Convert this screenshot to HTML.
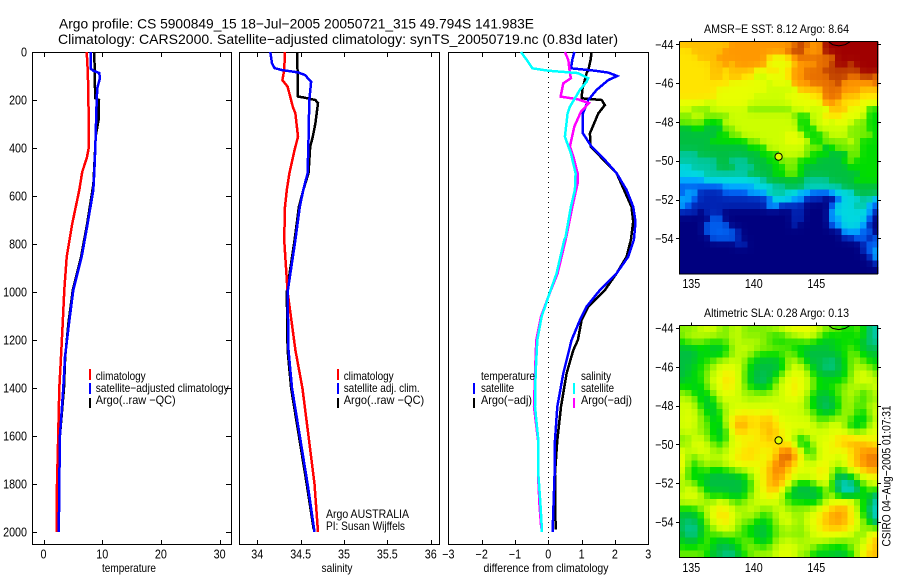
<!DOCTYPE html>
<html lang="en">
<head>
<meta charset="utf-8">
<title>Argo profile CS 5900849_15</title>
<style>
html,body{margin:0;padding:0;background:#fff;width:900px;height:580px;overflow:hidden}
svg{display:block}
text{font-family:"Liberation Sans",sans-serif;fill:#000}
</style>
</head>
<body>
<svg id="chart" xmlns="http://www.w3.org/2000/svg" width="900" height="580" viewBox="0 0 900 580">
  <text x="59" y="28.5" font-size="14" textLength="475" lengthAdjust="spacingAndGlyphs">Argo profile: CS 5900849_15 18−Jul−2005 20050721_315 49.794S 141.983E</text>
  <text x="58" y="44" font-size="14" textLength="560" lengthAdjust="spacingAndGlyphs">Climatology: CARS2000. Satellite−adjusted climatology: synTS_20050719.nc (0.83d later)</text>
  <g id="maps"></g>
  <g id="panels"></g>

  <text x="95.7" y="380" font-size="12" textLength="50" lengthAdjust="spacingAndGlyphs">climatology</text>
  <text x="95.7" y="392" font-size="12" textLength="133" lengthAdjust="spacingAndGlyphs">satellite−adjusted climatology</text>
  <text x="95.7" y="404" font-size="12" textLength="80" lengthAdjust="spacingAndGlyphs">Argo(..raw −QC)</text>
  <rect x="89" y="369" width="2" height="11" fill="#f00"/>
  <rect x="89" y="383" width="2" height="11" fill="#00f"/>
  <rect x="89" y="398" width="2" height="10" fill="#000"/>

  <text x="343.7" y="380" font-size="12" textLength="50" lengthAdjust="spacingAndGlyphs">climatology</text>
  <text x="343.7" y="392" font-size="12" textLength="76" lengthAdjust="spacingAndGlyphs">satellite adj. clim.</text>
  <text x="343.7" y="404" font-size="12" textLength="80.5" lengthAdjust="spacingAndGlyphs">Argo(..raw −QC)</text>
  <rect x="337" y="369" width="2" height="11" fill="#f00"/>
  <rect x="337" y="383" width="2" height="11" fill="#00f"/>
  <rect x="337" y="398" width="2" height="10" fill="#000"/>
  <text x="326" y="518" font-size="12" textLength="83" lengthAdjust="spacingAndGlyphs">Argo AUSTRALIA</text>
  <text x="326" y="530" font-size="12" textLength="79" lengthAdjust="spacingAndGlyphs">PI: Susan Wijffels</text>

  <text x="481" y="380" font-size="12" textLength="54" lengthAdjust="spacingAndGlyphs">temperature</text>
  <text x="481" y="392" font-size="12" textLength="33" lengthAdjust="spacingAndGlyphs">satellite</text>
  <text x="481" y="404" font-size="12" textLength="51" lengthAdjust="spacingAndGlyphs">Argo(−adj)</text>
  <rect x="473" y="383" width="2" height="11" fill="#00f"/>
  <rect x="473" y="398" width="2" height="10" fill="#000"/>
  <text x="581" y="380" font-size="12" textLength="30" lengthAdjust="spacingAndGlyphs">salinity</text>
  <text x="581" y="392" font-size="12" textLength="33" lengthAdjust="spacingAndGlyphs">satellite</text>
  <text x="581" y="404" font-size="12" textLength="51" lengthAdjust="spacingAndGlyphs">Argo(−adj)</text>
  <rect x="573" y="383" width="2" height="11" fill="#0ff"/>
  <rect x="573" y="398" width="2" height="10" fill="#f0f"/>

  <text transform="translate(890.5,546.5) rotate(-90)" font-size="12" textLength="141" lengthAdjust="spacingAndGlyphs">CSIRO 04−Aug−2005 01:07:31</text>
</svg>
<script>
// ---- profile data (depth in metres, value in data units) ----
const tempClimDepth=[0,60,150,300,400,440,500,575,714,853,992,1131,1270,1400,1600,1800,2000];
const tempClimValue=[7.36,7.5,7.64,7.7,7.7,7.4,6.6,6.1,4.9,3.95,3.55,3.27,2.98,2.7,2.5,2.3,2.25];
const tempSatDepth=[0,70,78,88,110,150,200,400,500,575,714,853,992,1131,1270,1400,1600,1800,2000];
const tempSatValue=[8.04,8.04,8.5,9.5,9.6,9.17,9.06,8.83,8.65,8.49,7.53,6.5,5.08,4.34,3.66,3.37,2.8,2.7,2.6];
const tempArgoDepth=[0,150,192,200,280,350,400,550,714,853,992,1131,1270,1400,1600,1800,1990];
const tempArgoValue=[8.66,8.77,8.77,9.45,9.4,8.9,8.8,8.5,7.45,6.4,5.0,4.25,3.7,3.5,2.8,2.6,2.5];

const salClimDepth=[0,75,117,144,228,256,353,408,505,575,645,783,1000,1242,1400,1600,1800,2000];
const salClimValue=[34.32,34.31,34.29,34.35,34.41,34.44,34.47,34.43,34.37,34.34,34.32,34.31,34.35,34.44,34.52,34.59,34.66,34.70];
const salSatDepth=[0,47,67,75,85,96,124,200,367,505,575,645,783,1000,1242,1400,1600,1800,2000];
const salSatValue=[34.15,34.17,34.2,34.28,34.47,34.55,34.62,34.6,34.59,34.58,34.53,34.49,34.44,34.35,34.36,34.4,34.49,34.58,34.66];
const salArgoDepth=[0,186,189,200,213,297,353,394,505,575,645,783,1000,1242,1400,1600,1800,1990];
const salArgoValue=[34.46,34.47,34.53,34.67,34.7,34.67,34.64,34.61,34.59,34.53,34.48,34.43,34.34,34.35,34.39,34.48,34.57,34.65];

const diffTempArgoDepth=[0,33,75,88,124,158,193,200,221,256,339,394,505,645,707,783,853,922,992,1061,1117,1200,1242,1339,1478,1617,1756,1990];
const diffTempArgoValue=[1.3,1.27,1.2,1.15,1.08,1.02,1.0,1.6,1.7,1.5,1.25,1.27,2.05,2.5,2.55,2.48,2.35,2.05,1.7,1.2,1.0,0.89,0.75,0.55,0.38,0.27,0.2,0.22];
const diffTempSatDepth=[0,33,68,78,86,100,117,158,200,256,339,394,450,505,575,645,707,783,853,922,992,1061,1117,1200,1339,1478,1617,1756,2000];
const diffTempSatValue=[0.78,0.72,0.68,1.4,1.8,2.07,1.8,1.45,1.2,1.04,1.04,1.3,1.7,2.05,2.35,2.55,2.62,2.57,2.4,2.05,1.55,1.15,0.95,0.7,0.45,0.27,0.2,0.19,0.13];
const diffSalArgoDepth=[0,33,88,109,131,186,197,213,249,311,394,436,505,547,645,770,922,1020,1103,1200,1339,1478,1617,1756,1895,1985];
const diffSalArgoValue=[0.5,0.6,0.65,0.68,0.45,0.37,0.89,1.22,0.98,0.78,0.65,0.75,0.88,0.88,0.72,0.54,0.28,0,-0.22,-0.36,-0.4,-0.43,-0.31,-0.31,-0.26,-0.21];
const diffSalSatDepth=[0,33,68,78,88,109,124,158,228,256,353,422,505,575,645,770,783,922,1020,1103,1200,1339,1478,1617,1756,1895,1999];
const diffSalSatValue=[-0.82,-0.65,-0.48,0,0.89,1.2,1.15,0.95,0.65,0.58,0.5,0.68,0.82,0.8,0.68,0.52,0.48,0.25,0,-0.2,-0.33,-0.38,-0.4,-0.3,-0.3,-0.23,-0.19];

const tempTicks=[0,10,20,30];
const tempTickLabels=["0","10","20","30"];
const salTicks=[34,34.5,35,35.5,36];
const salTickLabels=["34","34.5","35","35.5","36"];
const diffTicks=[-3,-2,-1,0,1,2,3];
const diffTickLabels=["−3","−2","−1","0","1","2","3"];
const depthTicks=[0,200,400,600,800,1000,1200,1400,1600,1800,2000];
const depthTickLabels=["0","200","400","600","800","1000","1200","1400","1600","1800","2000"];

// ---- map data: each character is a colour level (0-9,a-g), rows north to south, 0.5 deg lon by 1/3 deg lat ----
const sstGrid=[
"ccccccccddddddddddefeddggggggggg",
"bbcccccddddddddddeffdddggggggggg",
"bbbcccddddddddbaabdeeeeeeggggggg",
"bbbbbccdcdddddaaaacdddeefggfgggg",
"bbbbbccbccccaabbabddeeeffffffggg",
"bbbbbccbccbb99aaabddeeeefffeeffe",
"bbbbbbbbaaaaaa9aa9dddeeeefddddde",
"bbbbbbaaaaaaaa99999cccceeedddccc",
"bbbbbbaaaaaa99999aaaabbeeecccbbb",
"aaaa99aaaaa9999999aaaaaddcbbbaaa",
"99888999999888888899a999cccaaa77",
"88998888999999999987799bbbaaa977",
"88887779999999999997799a9aa98877",
"66776668899999999997779999988877",
"66666677889999999aa9777899988887",
"66666777777889999aaa977888898777",
"66666666666777999999888678888777",
"55566666666667779999877766688777",
"55555566555666778887776666787777",
"44555566655566677887666666677777",
"44445555555666677887666666666777",
"33334444444445666666555566667777",
"22222223333344455666555555666666",
"23311112222333555443322234446666",
"33211111111111244433111002444553",
"32111111111111331111000024445532",
"11101110000000000011000034444431",
"00000220000000000011000033444420",
"00002222000000000010000023444310",
"00002222210000000000000000333220",
"00000222210000000000000000112212",
"00000000011000000000000000000122",
"00000000000000000000000000000123",
"00000000000000000000000000000013",
"00000000000000000000000000000001",
"00000000000000000000000000000000"];
const slaGrid=[
"88899997998888899aabaa9888778755",
"89999988998888877898a98777777855",
"78887787998998777777877667777655",
"66677667899988988877666677787666",
"66677667899887777877666666788766",
"66677899998766667998666656788877",
"66778899a98766666899866556689887",
"667789abb98666668 9aa976666789a98",
"677789abb98665689aba987777789a99",
"776789abb987667 89aba98777889989",
"8876789aa98988899aba976678898789",
"99876799999899999aa9876667 89878",
"999766899a99999999998665679 8789",
"9a9876789aabaaba9999987667 8986 9",
"9a98867 9bccbbccb9a99987889977679",
"9a98876 8bddbbccbaaaaa9899987679",
"99988767accabbdcaa99aa99aa98789a",
"8899876 79aaabbccab86799aabccbbaa",
"88aa9878aabbbbbbab9679aaabccdccb",
"a99a9989aabbbabbefca679abaabcdddc",
"a8799898abbcbaabffdc789aa99bcdeed",
"b878999aabbaaaceedba99ab99acddedd",
"a77786677889abcedca9a9bb8789acdd",
"97676666667 8aacddbaaaabb855689aa",
"998766666667 9addca76679a755568 99",
"8998666666689accb7666668 8544578 8",
"9aa987776678 9aba86666668 965567 64",
"999988a98889999998777678abbc97754",
"77789abb9899988998898 9abccda8754",
"66679abba9898788a988 9aacdddb9764",
"6566 89bba888767 89a989abccdcba875",
"65568 89a98776678 89889aacccc b9887",
"655687888877666888888 9aaaa9987bb",
"7667876677887678999899 9988889 8bc",
"7777866667888789 9a999877777899bc",
"888876655678898 9aa98876766678bc"].map(function(r){return r.replace(/ /g,'');});

// ---- float position and marker ----
const floatLon=[141.983];
const floatLat=[-49.794];
const mapLonTicks=[135,140,145];
const mapLatTicks=[-44,-46,-48,-50,-52,-54];
const mapLonTickLabels=["135","140","145"];
const mapLatTickLabels=["−44","−46","−48","−50","−52","−54"];
const contourLon=[146.0,146.3,146.8,147.3,147.7];
const contourLat=[-43.87,-44.02,-44.08,-44.02,-43.87];

const levelColors=["#00007f","#0024b4","#0060f0","#00a8ff","#00d8e0","#00c8a0","#00bf40","#00dd00","#80f000","#ccff00","#e8ff00","#ffe400","#ffc000","#ff9800","#e87000","#c04000","#a00000"];
const levelChars="0123456789abcdefg";

const NS="http://www.w3.org/2000/svg";
function mk(tag,attrs,parent){
  const e=document.createElementNS(NS,tag);
  for(const k in attrs)e.setAttribute(k,attrs[k]);
  parent.appendChild(e);
  return e;
}
function fit(el,factor){
  const w=el.getComputedTextLength();
  el.setAttribute('textLength',(w*factor).toFixed(1));
  el.setAttribute('lengthAdjust','spacingAndGlyphs');
}
function levelColor(v){
  const i=Math.max(0,Math.min(levelColors.length-2,Math.floor(v)));
  const t=Math.max(0,Math.min(1,v-i));
  const a=levelColors[i],b=levelColors[i+1];
  let out='rgb(';
  for(let k=0;k<3;k++){
    const p=parseInt(a.substr(1+2*k,2),16),q=parseInt(b.substr(1+2*k,2),16);
    out+=Math.round(p+(q-p)*t)+(k<2?',':')');
  }
  return out;
}
function parseGrid(grid,smooth){
  const raw=grid.map(function(row){
    const vals=[];
    for(let c=0;c<32;c++){vals.push(Math.max(levelChars.indexOf(row.charAt(Math.min(c,row.length-1))),0));}
    return vals;
  });
  const kern=[1,2,1];
  return raw.map(function(row,r){
    return row.map(function(v,c){
      let s=0;
      for(let i=-1;i<=1;i++)for(let j=-1;j<=1;j++){
        const rr=Math.max(0,Math.min(raw.length-1,r+i)),cc=Math.max(0,Math.min(31,c+j));
        s+=raw[rr][cc]*kern[i+1]*kern[j+1];
      }
      return v*(1-smooth)+s/16*smooth;
    });
  });
}
const panelsG=document.getElementById('panels');
const mapsG=document.getElementById('maps');
const depthY=function(d){return 52+0.24*d;};

function drawLine(parent,xs,depths,values,color,name){
  const pts=depths.map(function(d,i){return xs(values[i]).toFixed(1)+','+depthY(d).toFixed(1);}).join(' ');
  const pl=mk('polyline',{points:pts,fill:'none',stroke:color,'stroke-width':'2.5','shape-rendering':'crispEdges','stroke-linejoin':'miter'},parent);
  
  
}
function drawPanel(name,left,right,xs,ticks,tickLabels,xTitle,titleX,titleW,withDepth){
  const g=mk('g',{},panelsG);
  
  
  const frame=mk('rect',{x:left+.5,y:52.5,width:right-left,height:492,fill:'none',stroke:'#000','stroke-width':1,'shape-rendering':'crispEdges'},g);
  
  
  ticks.forEach(function(t,i){
    const x=Math.round(xs(t))+.5;
    const tt=mk('path',{d:'M'+x+' 52V57M'+x+' 545V540',stroke:'#000','stroke-width':1,fill:'none','shape-rendering':'crispEdges'},g);
    
    
    const lb=mk('text',{x:xs(t),y:558.5,'font-size':12.5,'text-anchor':'middle'},g);
    lb.textContent=tickLabels[i];
    
    
    fit(lb,0.86);
  });
  const ttl=mk('text',{x:titleX,y:572,'font-size':12,'text-anchor':'middle',textLength:titleW,lengthAdjust:'spacingAndGlyphs'},g);
  ttl.textContent=xTitle;
  
  
  if(withDepth){
    depthTicks.forEach(function(d,i){
      const y=Math.round(depthY(d))+.5;
      const tt=mk('path',{d:'M'+left+' '+y+'h5M'+right+' '+y+'h-5',stroke:'#000','stroke-width':1,fill:'none','shape-rendering':'crispEdges'},g);
      
      
      const lb=mk('text',{x:left-5,y:depthY(d)+4.5,'font-size':12.5,'text-anchor':'end'},g);
      lb.textContent=depthTickLabels[i];
      
      
      fit(lb,0.86);
    });
  }
  return g;
}

const tempX=function(v){return 43.5+5.87*v;};
const salX=function(v){return 257.3+86.7*(v-34);};
const diffX=function(v){return 548.3+33.3*v;};

const p1=drawPanel('temperature-panel',32,231,tempX,tempTicks,tempTickLabels,'temperature',129,54,true);
drawLine(p1,tempX,tempArgoDepth,tempArgoValue,'#000','temperature-argo-line');
drawLine(p1,tempX,tempClimDepth,tempClimValue,'#f00','temperature-climatology-line');
drawLine(p1,tempX,tempSatDepth,tempSatValue,'#00f','temperature-satellite-line');

const p2=drawPanel('salinity-panel',239,439,salX,salTicks,salTickLabels,'salinity',337,31,false);
drawLine(p2,salX,salArgoDepth,salArgoValue,'#000','salinity-argo-line');
drawLine(p2,salX,salClimDepth,salClimValue,'#f00','salinity-climatology-line');
drawLine(p2,salX,salSatDepth,salSatValue,'#00f','salinity-satellite-line');

const p3=drawPanel('difference-panel',448,648,diffX,diffTicks,diffTickLabels,'difference from climatology',546,125,false);
const zero=mk('line',{x1:diffX(0),x2:diffX(0),y1:52,y2:545,stroke:'#000','stroke-width':1,'stroke-dasharray':'1 4','shape-rendering':'crispEdges'},p3);


drawLine(p3,diffX,diffTempArgoDepth,diffTempArgoValue,'#000','diff-temperature-argo-line');
drawLine(p3,diffX,diffTempSatDepth,diffTempSatValue,'#00f','diff-temperature-satellite-line');
drawLine(p3,diffX,diffSalArgoDepth,diffSalArgoValue,'#f0f','diff-salinity-argo-line');
drawLine(p3,diffX,diffSalSatDepth,diffSalSatValue,'#0ff','diff-salinity-satellite-line');

function drawMap(name,grid,smooth,top,bottom,latOrigin,title,titleY,lonLabelY){
  const g=mk('g',{},mapsG);
  
  
  const lonX=function(lon){return 691.3+12.5*(lon-135);};
  const latY=function(lat){return latOrigin+19.4*(-44-lat);};
  const lon0=134.0,dLon=0.5,lat0=(-44)+(latOrigin-top)/19.4,dLat=(bottom-top)/19.4/grid.length;
  const vals=parseGrid(grid,smooth);
  const cells=mk('g',{'shape-rendering':'crispEdges'},g);
  
  
  vals.forEach(function(row,r){
    row.forEach(function(v,c){
      const x0=Math.max(lonX(lon0+c*dLon),679),x1=Math.min(lonX(lon0+(c+1)*dLon),878);
      const y0=latY(lat0-r*dLat),y1=latY(lat0-(r+1)*dLat);
      const cell=mk('rect',{x:x0.toFixed(2),y:y0.toFixed(2),width:(x1-x0+.4).toFixed(2),height:(y1-y0+.4).toFixed(2),fill:levelColor(v)},cells);
      
      
    });
  });
  const clipPts=contourLon.map(function(l,i){return lonX(l).toFixed(1)+','+latY(contourLat[i]).toFixed(1);}).join(' ');
  const cont=mk('polyline',{points:clipPts,fill:'none',stroke:'#000','stroke-width':1},g);
  
  
  const frame=mk('path',{d:'M679.5 '+top+'V'+(bottom+.5)+'H877.5V'+top+'H679.5',fill:'none',stroke:'#000','stroke-width':1,'shape-rendering':'crispEdges'},g);
  
  
  mapLonTicks.forEach(function(l,i){
    const x=Math.round(lonX(l))+.5;
    const t=mk('path',{d:'M'+x+' '+top+'v-3',stroke:'#000','stroke-width':1,'shape-rendering':'crispEdges'},g);
    
    
    const lb=mk('text',{x:lonX(l),y:lonLabelY,'font-size':12.5,'text-anchor':'middle'},g);
    lb.textContent=mapLonTickLabels[i];
    
    
    fit(lb,0.86);
  });
  mapLatTicks.forEach(function(l,i){
    const y=Math.round(latY(l))+.5;
    const t=mk('path',{d:'M676 '+y+'h3M878 '+y+'h3',stroke:'#000','stroke-width':1,'shape-rendering':'crispEdges'},g);
    
    
    const lb=mk('text',{x:673.5,y:latY(l)+4.5,'font-size':12.5,'text-anchor':'end'},g);
    lb.textContent=mapLatTickLabels[i];
    
    
    fit(lb,0.86);
  });
  const tt=mk('text',{x:776.5,y:titleY,'font-size':12,'text-anchor':'middle',textLength:145,lengthAdjust:'spacingAndGlyphs'},g);
  tt.textContent=title;
  
  
  const mark=mk('circle',{cx:lonX(floatLon[0]),cy:latY(floatLat[0]),r:3.6,fill:'#e0ff00',stroke:'#000','stroke-width':1},g);
  
  
}
drawMap('sst-map',sstGrid,0.5,41.5,273.5,44.3,'AMSR−E SST: 8.12 Argo: 8.64',33,288);
drawMap('sla-map',slaGrid,1,325.5,557,328,'Altimetric SLA: 0.28 Argo: 0.13',317,572);
</script>
</body>
</html>
